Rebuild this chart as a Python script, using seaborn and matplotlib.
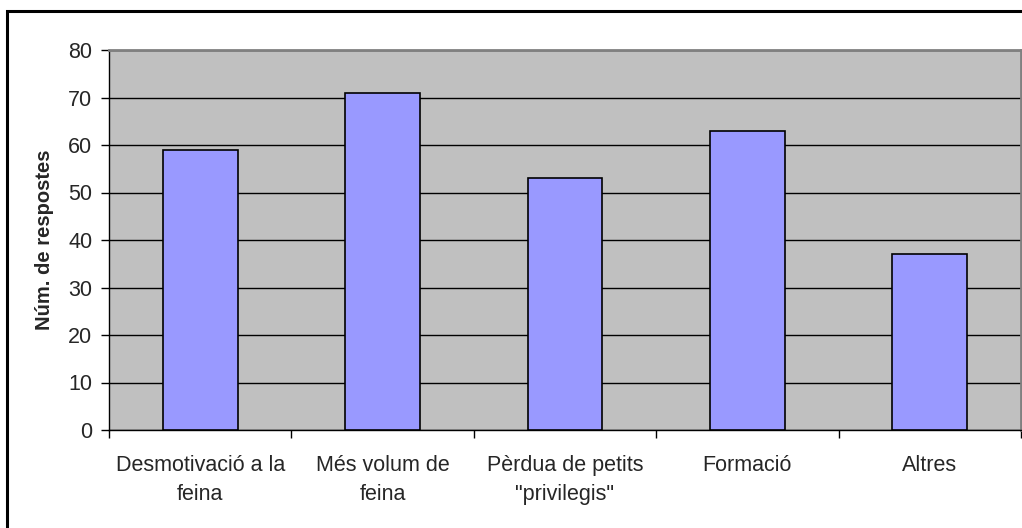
import matplotlib
matplotlib.use("Agg")
import matplotlib.pyplot as plt
import matplotlib.patches as mpatches
import seaborn as sns
import pandas as pd

# -----------------------------
# Data
# -----------------------------
CATEGORIES = [
    "Desmotivació a la\nfeina",
    "Més volum de\nfeina",
    "Pèrdua de petits\n\"privilegis\"",
    "Formació",
    "Altres",
]
RESPOSTES = [59, 71, 53, 63, 37]
Y_TICKS = [0, 10, 20, 30, 40, 50, 60, 70, 80]

df = pd.DataFrame({"categoria": CATEGORIES, "respostes": RESPOSTES})

sns.set_style("white")
plt.rcParams["font.family"] = ["Liberation Sans", "DejaVu Sans"]

fig = plt.figure(figsize=(10.22, 5.28), dpi=100)
ax = fig.add_axes([109 / 1022, 1 - 430 / 528, 912 / 1022, 380 / 528])
ax.set_facecolor("#C0C0C0")

sns.barplot(
    data=df,
    x="categoria",
    y="respostes",
    color="#9999FF",
    saturation=1,
    width=0.41,
    edgecolor="black",
    linewidth=1.2,
    ax=ax,
    zorder=3,
)

ax.set_ylim(0, 80)
ax.set_xlim(-0.5, len(CATEGORIES) - 0.5)
ax.set_yticks(Y_TICKS)
ax.yaxis.grid(True, color="black", linewidth=1)
ax.set_axisbelow(True)

# category boundaries as major ticks, labels on minor ticks
ax.set_xticks([i - 0.5 for i in range(len(CATEGORIES) + 1)])
ax.set_xticklabels([])
ax.set_xticks(range(len(CATEGORIES)), minor=True)
ax.set_xticklabels(CATEGORIES, minor=True, fontsize=15.5, linespacing=1.5)
ax.tick_params(axis="x", which="minor", length=0, pad=18)
ax.tick_params(axis="x", which="major", length=6, width=1, color="black", direction="out")
ax.tick_params(axis="y", length=6, width=1, color="black", direction="out", labelsize=15.5, pad=6)
ax.tick_params(bottom=True, left=True)

ax.set_xlabel("")
ax.set_ylabel("Núm. de respostes", fontsize=14.5, fontweight="bold", labelpad=10)

for side in ["left", "bottom"]:
    ax.spines[side].set_color("black")
    ax.spines[side].set_linewidth(1)
for side in ["top", "right"]:
    ax.spines[side].set_color("#808080")
    ax.spines[side].set_linewidth(2)

# outer chart frame
frame = mpatches.Rectangle(
    (7 / 1022, -0.05), 1.1, 1 - 11 / 528 + 0.05,
    transform=fig.transFigure, fill=False, edgecolor="black", linewidth=2.2,
    clip_on=False,
)
fig.patches.append(frame)

fig.savefig("out.png", dpi=100)
plt.close(fig)
